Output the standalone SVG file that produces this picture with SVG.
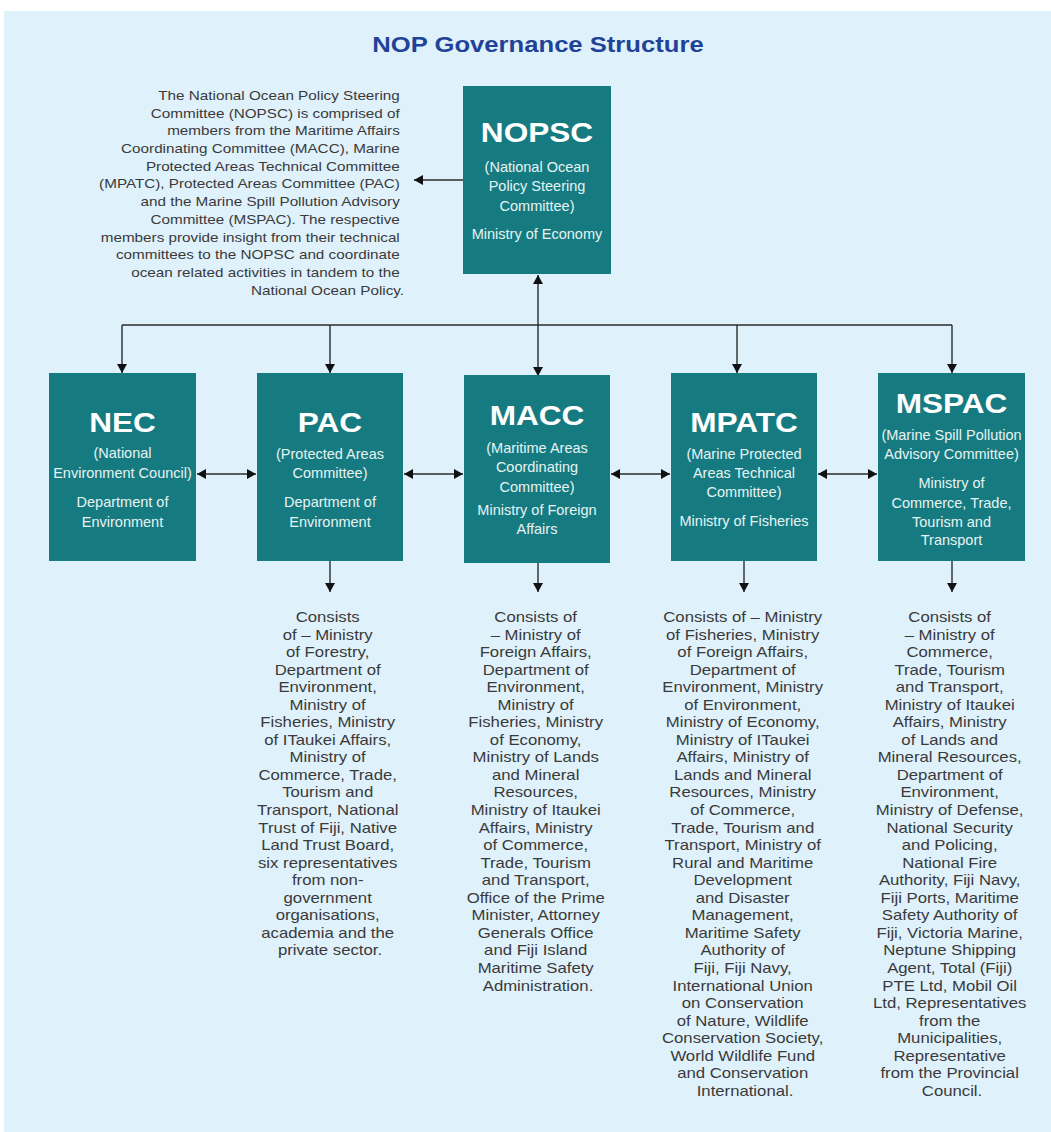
<svg xmlns="http://www.w3.org/2000/svg" width="1051" height="1132" viewBox="0 0 1051 1132">
<defs>
<style>
.bg{fill:#dff1fb}
.box{fill:#167b81}
.ttl{font-family:"Liberation Sans",Arial,sans-serif;font-weight:bold;font-size:22px;fill:#1e4397;text-anchor:middle}
.bt{font-family:"Liberation Sans",Arial,sans-serif;font-weight:bold;font-size:27px;fill:#ffffff;text-anchor:middle}
.bs{font-family:"Liberation Sans",Arial,sans-serif;font-size:14.5px;fill:#e6f3f3;text-anchor:middle}
.ct{font-family:"Liberation Sans",Arial,sans-serif;font-size:14.3px;fill:#3a3a3a;text-anchor:middle}
.tl{font-family:"Liberation Sans",Arial,sans-serif;font-size:13.5px;fill:#3a3a3a;text-anchor:end}
.ln{stroke:#2b2b2b;stroke-width:1.4;fill:none}
.arr{marker-end:url(#ah)}
.dbl{marker-start:url(#ah);marker-end:url(#ah)}
</style>
<marker id="ah" markerUnits="userSpaceOnUse" viewBox="0 0 9 10" refX="9" refY="5" markerWidth="9" markerHeight="10" orient="auto-start-reverse">
<path d="M0,0 L9,5 L0,10 z" fill="#111"/>
</marker>
</defs>
<rect x="0" y="0" width="1051" height="1132" fill="#ffffff"/>
<rect class="bg" x="4" y="11" width="1047" height="1121"/>

<text class="ttl" transform="translate(538 52) scale(1.165 1)" x="0" y="0">NOP Governance Structure</text>

<g id="intro">
<text class="tl" transform="translate(404 0) scale(1.13 1)">
<tspan x="0" y="100">The National Ocean Policy Steering</tspan>
<tspan x="0" y="117.7">Committee (NOPSC) is comprised of</tspan>
<tspan x="0" y="135.4">members from the Maritime Affairs</tspan>
<tspan x="0" y="153.1">Coordinating Committee (MACC), Marine</tspan>
<tspan x="0" y="170.8">Protected Areas Technical Committee</tspan>
<tspan x="0" y="188.5">(MPATC), Protected Areas Committee (PAC)</tspan>
<tspan x="0" y="206.2">and the Marine Spill Pollution Advisory</tspan>
<tspan x="0" y="223.9">Committee (MSPAC). The respective</tspan>
<tspan x="0" y="241.6">members provide insight from their technical</tspan>
<tspan x="0" y="259.3">committees to the NOPSC and coordinate</tspan>
<tspan x="0" y="277">ocean related activities in tandem to the</tspan>
<tspan x="0" y="294.7">National Ocean Policy.</tspan>
</text>
</g>

<g id="connectors">
<line class="ln arr" x1="463" y1="180" x2="414" y2="180"/>
<line class="ln dbl" x1="538" y1="275" x2="538" y2="376"/>
<line class="ln" x1="122" y1="325" x2="952" y2="325"/>
<line class="ln arr" x1="122" y1="325" x2="122" y2="373"/>
<line class="ln arr" x1="330" y1="325" x2="330" y2="373"/>
<line class="ln arr" x1="737" y1="325" x2="737" y2="373"/>
<line class="ln arr" x1="952" y1="325" x2="952" y2="373"/>
<line class="ln dbl" x1="197" y1="474" x2="256" y2="474"/>
<line class="ln dbl" x1="404" y1="474" x2="463" y2="474"/>
<line class="ln dbl" x1="611" y1="474" x2="670" y2="474"/>
<line class="ln dbl" x1="818" y1="474" x2="877" y2="474"/>
<line class="ln arr" x1="330" y1="561" x2="330" y2="592"/>
<line class="ln arr" x1="538" y1="563" x2="538" y2="592"/>
<line class="ln arr" x1="744" y1="561" x2="744" y2="592"/>
<line class="ln arr" x1="952" y1="561" x2="952" y2="592"/>
</g>

<g id="nopsc">
<rect class="box" x="463" y="86" width="148" height="188"/>
<text class="bt" transform="translate(537 142) scale(1.17 1)">NOPSC</text>
<text class="bs"><tspan x="537" y="172">(National Ocean</tspan><tspan x="537" y="191">Policy Steering</tspan><tspan x="537" y="211">Committee)</tspan><tspan x="537" y="239">Ministry of Economy</tspan></text>
</g>

<g id="nec">
<rect class="box" x="49" y="373" width="147" height="188"/>
<text class="bt" transform="translate(122.5 432) scale(1.17 1)">NEC</text>
<text class="bs"><tspan x="122.5" y="458">(National</tspan><tspan x="122.5" y="478">Environment Council)</tspan><tspan x="122.5" y="507">Department of</tspan><tspan x="122.5" y="527">Environment</tspan></text>
</g>

<g id="pac">
<rect class="box" x="257" y="373" width="146" height="188"/>
<text class="bt" transform="translate(330 432) scale(1.17 1)">PAC</text>
<text class="bs"><tspan x="330" y="459">(Protected Areas</tspan><tspan x="330" y="478">Committee)</tspan><tspan x="330" y="507">Department of</tspan><tspan x="330" y="527">Environment</tspan></text>
<text class="ct" transform="translate(330 0) scale(1.17 1)">
<tspan x="0" y="622">Consists</tspan>
<tspan x="0" y="639.55">of – Ministry</tspan>
<tspan x="0" y="657.1">of Forestry,</tspan>
<tspan x="0" y="674.65">Department of</tspan>
<tspan x="0" y="692.2">Environment,</tspan>
<tspan x="0" y="709.75">Ministry of</tspan>
<tspan x="0" y="727.3">Fisheries, Ministry</tspan>
<tspan x="0" y="744.85">of ITaukei Affairs,</tspan>
<tspan x="0" y="762.4">Ministry of</tspan>
<tspan x="0" y="779.95">Commerce, Trade,</tspan>
<tspan x="0" y="797.5">Tourism and</tspan>
<tspan x="0" y="815.05">Transport, National</tspan>
<tspan x="0" y="832.6">Trust of Fiji, Native</tspan>
<tspan x="0" y="850.15">Land Trust Board,</tspan>
<tspan x="0" y="867.7">six representatives</tspan>
<tspan x="0" y="885.25">from non-</tspan>
<tspan x="0" y="902.8">government</tspan>
<tspan x="0" y="920.35">organisations,</tspan>
<tspan x="0" y="937.9">academia and the</tspan>
<tspan x="0" y="955.45">private sector.</tspan>
</text>
</g>

<g id="macc">
<rect class="box" x="464" y="375" width="146" height="188"/>
<text class="bt" transform="translate(537 425) scale(1.17 1)">MACC</text>
<text class="bs"><tspan x="537" y="453">(Maritime Areas</tspan><tspan x="537" y="472">Coordinating</tspan><tspan x="537" y="492">Committee)</tspan><tspan x="537" y="515">Ministry of Foreign</tspan><tspan x="537" y="534">Affairs</tspan></text>
<text class="ct" transform="translate(538 0) scale(1.17 1)">
<tspan x="0" y="622">Consists of</tspan>
<tspan x="0" y="639.55">– Ministry of</tspan>
<tspan x="0" y="657.1">Foreign Affairs,</tspan>
<tspan x="0" y="674.65">Department of</tspan>
<tspan x="0" y="692.2">Environment,</tspan>
<tspan x="0" y="709.75">Ministry of</tspan>
<tspan x="0" y="727.3">Fisheries, Ministry</tspan>
<tspan x="0" y="744.85">of Economy,</tspan>
<tspan x="0" y="762.4">Ministry of Lands</tspan>
<tspan x="0" y="779.95">and Mineral</tspan>
<tspan x="0" y="797.5">Resources,</tspan>
<tspan x="0" y="815.05">Ministry of Itaukei</tspan>
<tspan x="0" y="832.6">Affairs, Ministry</tspan>
<tspan x="0" y="850.15">of Commerce,</tspan>
<tspan x="0" y="867.7">Trade, Tourism</tspan>
<tspan x="0" y="885.25">and Transport,</tspan>
<tspan x="0" y="902.8">Office of the Prime</tspan>
<tspan x="0" y="920.35">Minister, Attorney</tspan>
<tspan x="0" y="937.9">Generals Office</tspan>
<tspan x="0" y="955.45">and Fiji Island</tspan>
<tspan x="0" y="973">Maritime Safety</tspan>
<tspan x="0" y="990.55">Administration.</tspan>
</text>
</g>

<g id="mpatc">
<rect class="box" x="671" y="373" width="146" height="188"/>
<text class="bt" transform="translate(744 432) scale(1.17 1)">MPATC</text>
<text class="bs"><tspan x="744" y="459">(Marine Protected</tspan><tspan x="744" y="478">Areas Technical</tspan><tspan x="744" y="497">Committee)</tspan><tspan x="744" y="526">Ministry of Fisheries</tspan></text>
<text class="ct" transform="translate(745 0) scale(1.17 1)">
<tspan x="0" y="622">Consists of – Ministry</tspan>
<tspan x="0" y="639.55">of Fisheries, Ministry</tspan>
<tspan x="0" y="657.1">of Foreign Affairs,</tspan>
<tspan x="0" y="674.65">Department of</tspan>
<tspan x="0" y="692.2">Environment, Ministry</tspan>
<tspan x="0" y="709.75">of Environment,</tspan>
<tspan x="0" y="727.3">Ministry of Economy,</tspan>
<tspan x="0" y="744.85">Ministry of ITaukei</tspan>
<tspan x="0" y="762.4">Affairs, Ministry of</tspan>
<tspan x="0" y="779.95">Lands and Mineral</tspan>
<tspan x="0" y="797.5">Resources, Ministry</tspan>
<tspan x="0" y="815.05">of Commerce,</tspan>
<tspan x="0" y="832.6">Trade, Tourism and</tspan>
<tspan x="0" y="850.15">Transport, Ministry of</tspan>
<tspan x="0" y="867.7">Rural and Maritime</tspan>
<tspan x="0" y="885.25">Development</tspan>
<tspan x="0" y="902.8">and Disaster</tspan>
<tspan x="0" y="920.35">Management,</tspan>
<tspan x="0" y="937.9">Maritime Safety</tspan>
<tspan x="0" y="955.45">Authority of</tspan>
<tspan x="0" y="973">Fiji, Fiji Navy,</tspan>
<tspan x="0" y="990.55">International Union</tspan>
<tspan x="0" y="1008.1">on Conservation</tspan>
<tspan x="0" y="1025.65">of Nature, Wildlife</tspan>
<tspan x="0" y="1043.2">Conservation Society,</tspan>
<tspan x="0" y="1060.75">World Wildlife Fund</tspan>
<tspan x="0" y="1078.3">and Conservation</tspan>
<tspan x="0" y="1095.85">International.</tspan>
</text>
</g>

<g id="mspac">
<rect class="box" x="878" y="373" width="147" height="188"/>
<text class="bt" transform="translate(951.5 413) scale(1.17 1)">MSPAC</text>
<text class="bs"><tspan x="951.5" y="440">(Marine Spill Pollution</tspan><tspan x="951.5" y="459">Advisory Committee)</tspan><tspan x="951.5" y="488">Ministry of</tspan><tspan x="951.5" y="508">Commerce, Trade,</tspan><tspan x="951.5" y="527">Tourism and</tspan><tspan x="951.5" y="545">Transport</tspan></text>
<text class="ct" transform="translate(952 0) scale(1.17 1)">
<tspan x="0" y="622">Consists of</tspan>
<tspan x="0" y="639.55">– Ministry of</tspan>
<tspan x="0" y="657.1">Commerce,</tspan>
<tspan x="0" y="674.65">Trade, Tourism</tspan>
<tspan x="0" y="692.2">and Transport,</tspan>
<tspan x="0" y="709.75">Ministry of Itaukei</tspan>
<tspan x="0" y="727.3">Affairs, Ministry</tspan>
<tspan x="0" y="744.85">of Lands and</tspan>
<tspan x="0" y="762.4">Mineral Resources,</tspan>
<tspan x="0" y="779.95">Department of</tspan>
<tspan x="0" y="797.5">Environment,</tspan>
<tspan x="0" y="815.05">Ministry of Defense,</tspan>
<tspan x="0" y="832.6">National Security</tspan>
<tspan x="0" y="850.15">and Policing,</tspan>
<tspan x="0" y="867.7">National Fire</tspan>
<tspan x="0" y="885.25">Authority, Fiji Navy,</tspan>
<tspan x="0" y="902.8">Fiji Ports, Maritime</tspan>
<tspan x="0" y="920.35">Safety Authority of</tspan>
<tspan x="0" y="937.9">Fiji, Victoria Marine,</tspan>
<tspan x="0" y="955.45">Neptune Shipping</tspan>
<tspan x="0" y="973">Agent, Total (Fiji)</tspan>
<tspan x="0" y="990.55">PTE Ltd, Mobil Oil</tspan>
<tspan x="0" y="1008.1">Ltd, Representatives</tspan>
<tspan x="0" y="1025.65">from the</tspan>
<tspan x="0" y="1043.2">Municipalities,</tspan>
<tspan x="0" y="1060.75">Representative</tspan>
<tspan x="0" y="1078.3">from the Provincial</tspan>
<tspan x="0" y="1095.85">Council.</tspan>
</text>
</g>
</svg>
